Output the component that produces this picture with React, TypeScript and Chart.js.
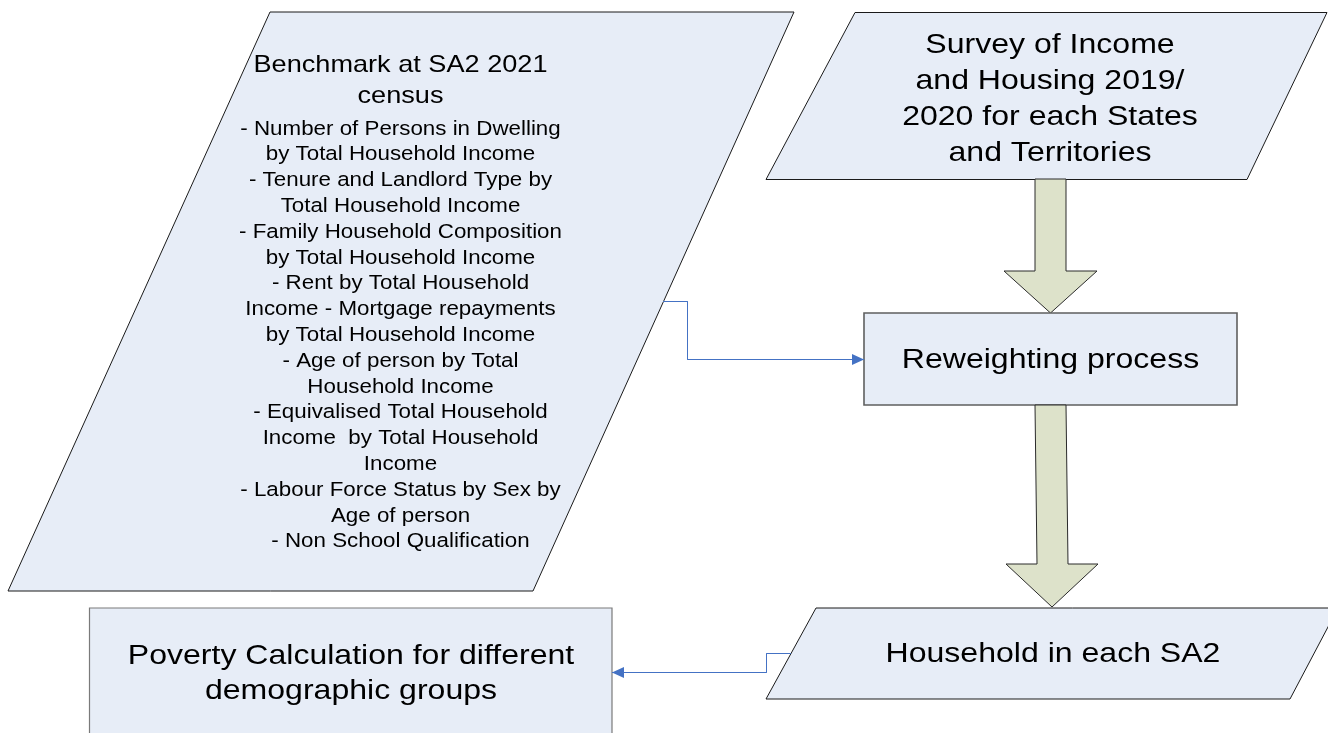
import React, { useEffect, useRef } from "react";
import { Chart, registerables } from "chart.js";

Chart.register(...registerables);

const CANVAS_W = 1328;
const CANVAS_H = 733;

// ---- Shapes (diagram coordinates: x to the right, y downward) ----
const benchmarkShape = [
  { x: 270, y: 12 }, { x: 794, y: 12 }, { x: 533, y: 591 }, { x: 8, y: 591 },
];
const surveyShape = [
  { x: 855, y: 12.5 }, { x: 1327, y: 12.5 }, { x: 1247, y: 179.5 }, { x: 766, y: 179.5 },
];
const reweightShape = [
  { x: 864, y: 313 }, { x: 1237, y: 313 }, { x: 1237, y: 405 }, { x: 864, y: 405 },
];
const householdShape = [
  { x: 816, y: 608 }, { x: 1338, y: 608 }, { x: 1290, y: 699 }, { x: 766, y: 699 },
];
const povertyShape = [
  { x: 89.5, y: 608 }, { x: 612, y: 608 }, { x: 612, y: 745 }, { x: 89.5, y: 745 },
];
const arrowTop = [
  { x: 1035, y: 179 }, { x: 1066, y: 179 }, { x: 1066, y: 271 }, { x: 1097, y: 271 },
  { x: 1050.5, y: 313 }, { x: 1004, y: 271 }, { x: 1035, y: 271 },
];
const arrowBottom = [
  { x: 1035, y: 405 }, { x: 1066, y: 405 }, { x: 1068, y: 564 }, { x: 1098, y: 564 },
  { x: 1052, y: 607 }, { x: 1006, y: 564 }, { x: 1037, y: 564 },
];

// ---- Connectors ----
const connectorToReweight = [
  { x: 663, y: 301.5 }, { x: 687.5, y: 301.5 }, { x: 687.5, y: 359.5 }, { x: 864, y: 359.5 },
];
const connectorToPoverty = [
  { x: 791, y: 653.5 }, { x: 766.5, y: 653.5 }, { x: 766.5, y: 672.5 }, { x: 612, y: 672.5 },
];

// ---- Texts ----
const benchmarkTitleLines = ["Benchmark at SA2 2021", "census"];
const benchmarkTitleY = [65, 96];
const benchmarkItemLines = [
  "- Number of Persons in Dwelling",
  "by Total Household Income",
  "- Tenure and Landlord Type by",
  "Total Household Income",
  "- Family Household Composition",
  "by Total Household Income",
  "- Rent by Total Household",
  "Income - Mortgage repayments",
  "by Total Household Income",
  "- Age of person by Total",
  "Household Income",
  "- Equivalised Total Household",
  "Income  by Total Household",
  "Income",
  "- Labour Force Status by Sex by",
  "Age of person",
  "- Non School Qualification",
];
const benchmarkItemY = [
  129, 154.8, 180.6, 206.4, 232.2, 258, 283.8, 309.6, 335.4, 361.2, 387,
  412.8, 438.6, 464.4, 490.2, 516, 541.8,
];
const surveyLines = ["Survey of Income", "and Housing 2019/", "2020 for each States", "and Territories"];
const surveyY = [45, 81, 117, 153];
const reweightLines = ["Reweighting process"];
const reweightY = [360.5];
const householdLines = ["Household in each SA2"];
const householdY = [654.5];
const povertyLines = ["Poverty Calculation for different", "demographic groups"];
const povertyY = [656.5, 691.5];

const BOX_FILL = "#E7EDF7";
const ARROW_FILL = "#DDE2CA";
const LINK_BLUE = "#4472C4";

function shapeDataset(points: any[], fill: string, stroke: string, lineWidth: number) {
  return {
    data: points,
    kind: "shape",
    shapeFill: fill,
    shapeStroke: stroke,
    shapeLineWidth: lineWidth,
    showLine: false,
    pointRadius: 0,
    pointHoverRadius: 0,
  };
}

function textDataset(lines: string[], x: number, ys: number[], size: number, stretch: number) {
  return {
    data: ys.map((y) => ({ x, y })),
    kind: "text",
    lines,
    fontSize: size,
    stretch,
    showLine: false,
    pointRadius: 0,
    pointHoverRadius: 0,
  };
}

function connectorDataset(points: any[]) {
  return {
    data: points,
    kind: "connector",
    showLine: true,
    borderColor: LINK_BLUE,
    borderWidth: 1,
    pointRadius: 0,
    pointHoverRadius: 0,
    tension: 0,
    fill: false,
  };
}

const flowPlugin = {
  id: "flowPlugin",
  beforeDatasetsDraw(chart: any) {
    const ctx = chart.ctx;
    chart.data.datasets.forEach((ds: any, i: number) => {
      if (ds.kind !== "shape") return;
      const pts = chart.getDatasetMeta(i).data;
      ctx.save();
      ctx.beginPath();
      pts.forEach((p: any, j: number) => (j ? ctx.lineTo(p.x, p.y) : ctx.moveTo(p.x, p.y)));
      ctx.closePath();
      ctx.fillStyle = ds.shapeFill;
      ctx.fill();
      ctx.lineWidth = ds.shapeLineWidth;
      ctx.strokeStyle = ds.shapeStroke;
      ctx.lineJoin = "miter";
      ctx.stroke();
      ctx.restore();
    });
  },
  afterDatasetsDraw(chart: any) {
    const ctx = chart.ctx;
    chart.data.datasets.forEach((ds: any, i: number) => {
      const pts = chart.getDatasetMeta(i).data;
      if (ds.kind === "connector") {
        const a = pts[pts.length - 2];
        const b = pts[pts.length - 1];
        const ang = Math.atan2(b.y - a.y, b.x - a.x);
        const len = 12;
        const half = 5.5;
        ctx.save();
        ctx.translate(b.x, b.y);
        ctx.rotate(ang);
        ctx.beginPath();
        ctx.moveTo(0, 0);
        ctx.lineTo(-len, -half);
        ctx.lineTo(-len, half);
        ctx.closePath();
        ctx.fillStyle = LINK_BLUE;
        ctx.fill();
        ctx.restore();
      } else if (ds.kind === "text") {
        ctx.save();
        ctx.fillStyle = "#000000";
        ctx.textAlign = "center";
        ctx.textBaseline = "middle";
        ctx.font = `${ds.fontSize}px "Liberation Sans", Arial, sans-serif`;
        pts.forEach((p: any, j: number) => {
          ctx.save();
          ctx.translate(p.x, p.y);
          ctx.scale(ds.stretch, 1);
          ctx.fillText(ds.lines[j], 0, 0);
          ctx.restore();
        });
        ctx.restore();
      }
    });
  },
};

export default function App() {
  const canvasRef = useRef<HTMLCanvasElement | null>(null);

  useEffect(() => {
    document.body.style.margin = "0";
    const canvas = canvasRef.current;
    if (!canvas) return;
    const chart = new Chart(canvas, {
      type: "scatter",
      data: {
        datasets: [
          shapeDataset(benchmarkShape, BOX_FILL, "#1a1a1a", 1),
          shapeDataset(surveyShape, BOX_FILL, "#1a1a1a", 1),
          shapeDataset(arrowTop, ARROW_FILL, "#2a2a2a", 1),
          shapeDataset(reweightShape, BOX_FILL, "#5f5f5f", 1.6),
          shapeDataset(arrowBottom, ARROW_FILL, "#2a2a2a", 1),
          shapeDataset(householdShape, BOX_FILL, "#1a1a1a", 1),
          shapeDataset(povertyShape, BOX_FILL, "#7a7a7a", 1.2),
          connectorDataset(connectorToReweight),
          connectorDataset(connectorToPoverty),
          textDataset(benchmarkTitleLines, 400.5, benchmarkTitleY, 24, 1.13),
          textDataset(benchmarkItemLines, 400.5, benchmarkItemY, 20.5, 1.09),
          textDataset(surveyLines, 1050, surveyY, 27.5, 1.165),
          textDataset(reweightLines, 1050.5, reweightY, 27.5, 1.165),
          textDataset(householdLines, 1053, householdY, 27.5, 1.165),
          textDataset(povertyLines, 351, povertyY, 27.5, 1.165),
        ] as any,
      },
      options: {
        animation: false,
        responsive: false,
        maintainAspectRatio: false,
        events: [],
        layout: { padding: 0 },
        plugins: {
          legend: { display: false },
          tooltip: { enabled: false },
          title: { display: false },
        },
        scales: {
          x: { type: "linear", min: 0, max: CANVAS_W, display: false },
          y: { type: "linear", min: 0, max: CANVAS_H, reverse: true, display: false },
        },
      },
      plugins: [flowPlugin],
    });
    return () => chart.destroy();
  }, []);

  return (
    <div style={{ width: CANVAS_W, height: CANVAS_H, background: "#ffffff", overflow: "hidden" }}>
      <canvas ref={canvasRef} width={CANVAS_W} height={CANVAS_H} style={{ display: "block" }} />
    </div>
  );
}
